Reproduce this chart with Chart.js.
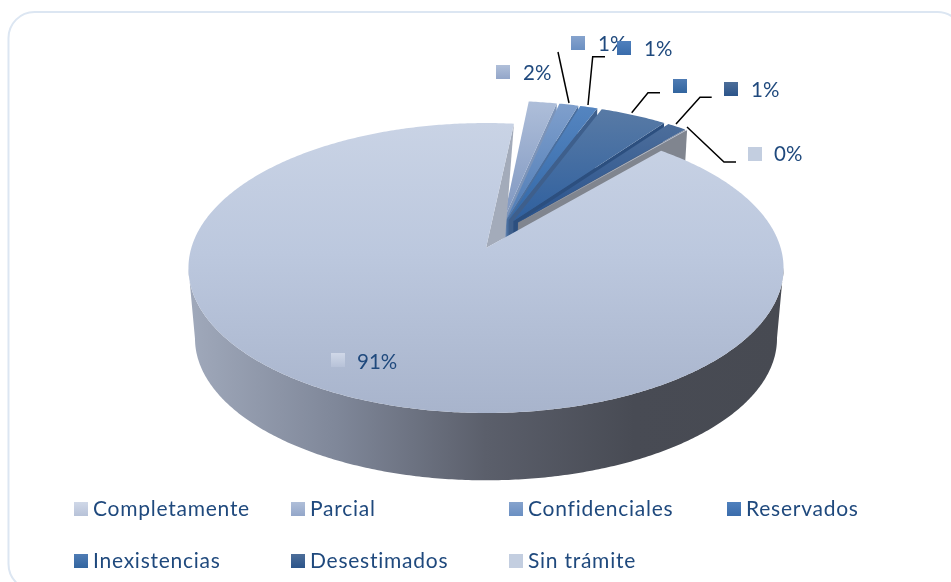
<!DOCTYPE html>
<html><head><meta charset="utf-8">
<style>html,body{margin:0;padding:0;background:#fff;overflow:hidden}canvas{display:block}</style>
<script src="https://cdn.jsdelivr.net/npm/chart.js@4"></script></head>
<body><canvas id="c" width="951" height="582"></canvas>
<script>
const categories=["Completamente","Parcial","Confidenciales","Reservados","Inexistencias","Desestimados","Sin trámite"];
const values=[90.33,1.78,1.22,1.11,4.26,1.22,0.08];
const valueLabels=["91%","2%","1%","1%","","1%","0%"];
const faceTop=["#c9d3e5","#aebed9","#7f9fcc","#5585c0","#587aa5","#4d6e9b","#c8d2e3"];
const faceBottom=["#a8b4cc","#7e96c0","#4f7cb6","#3268a8","#2f609f","#28528d","#c0cbdf"];
const wallCol=["#8c9ab8","#7c94b9","#4a6f9f","#3e5f8c","#2c4f7f","#7d828d","#80858f"];
const swatchTop=["#d0d8e8","#b0bfd9","#86a3cd","#4f80bd","#4f7cb4","#4d6e99","#c3cee0"];
const swatchBottom=["#b7c2d8","#93a6c9","#6a8fc2","#3a6cab","#32659f","#2b548a","#c3cee0"];
// layout (not data)
const labelPos=[[331,353,357,362],[496,65,523,73],[571,36,598,44],[617,41,644,49],[673,79,0,0],[724,82,751,90],[748,147,774,154]];
const leaders=[[],[],[[558,52],[569,103]],[[588,105],[592.7,56.7],[605,56.7]],[[631.7,112.7],[648,92.7],[660,92.7]],[[676,124],[700,97.3],[711.7,97.3]],[[687,127],[724,162],[736,162]]];
const legendPos=[[74,502],[291,502],[509,502],[727,502],[74,554],[291,554],[509,554]];
const TXT="#1f497d",LABEL_FONT="20.5px Lato, Carlito, sans-serif",LEGEND_FONT="21px Lato, Carlito, sans-serif";

const P={cx:486,cy:248,Rx:294.7,Ry:142.2,k:0.138,dy:71,sh:0.022};
function proj(u,v,t){const w=1+P.k*v,s=1-P.sh*t;return[P.cx+P.Rx*s*u/w,P.cy+P.dy*t-P.Ry*s*v/w];}
function dir(a){return[Math.cos(a),-Math.sin(a)];}
function poly(ctx,pts){ctx.beginPath();pts.forEach((p,i)=>i?ctx.lineTo(p[0],p[1]):ctx.moveTo(p[0],p[1]));ctx.closePath();}
function rim(o,a0,a1,t){const n=Math.max(2,Math.ceil(Math.abs(a1-a0)/0.01)),r=[];for(let i=0;i<=n;i++){const d=dir(a0+(a1-a0)*i/n);r.push(proj(o[0]+d[0],o[1]+d[1],t));}return r;}

const pie3d={id:'pie3d',
 beforeDraw(chart){const c=chart.ctx;c.save();c.fillStyle="#fff";c.fillRect(0,0,951,582);
  c.strokeStyle="#dce6f2";c.lineWidth=2;c.beginPath();c.roundRect(8.5,12,955,578,26);c.stroke();c.restore();},
 beforeDatasetsDraw(chart){
  const ctx=chart.ctx,els=chart.getDatasetMeta(0).data;
  const mid=e=>(e.startAngle+e.endAngle)/2;
  const eOf=e=>e.options.offset/e.outerRadius;
  const m=els[0],md=dir(mid(m)),me=eOf(m);
  const origin=e=>{const d=dir(mid(e)),x=eOf(e);return[(d[0]*x-md[0]*me),(d[1]*x-md[1]*me)];};
  ctx.save();
  for(let i=1;i<els.length;i++){const e=els[i],o=origin(e);
    const topR=rim(o,e.startAngle,e.endAngle,0);
    const d=dir(e.endAngle);
    poly(ctx,[proj(o[0],o[1],0),proj(o[0]+d[0],o[1]+d[1],0),proj(o[0]+d[0],o[1]+d[1],1),proj(o[0],o[1],1)]);
    ctx.fillStyle=wallCol[i];ctx.fill();
    const a=proj(o[0],o[1],0);
    const g=ctx.createLinearGradient(0,Math.min(...topR.map(p=>p[1])),0,a[1]);
    g.addColorStop(0,faceTop[i]);g.addColorStop(1,faceBottom[i]);
    poly(ctx,[a,...topR]);ctx.fillStyle=g;ctx.fill();
  }
  const o=[0,0];
  const dEnd=dir(m.endAngle),dStart=dir(m.startAngle);
  poly(ctx,[proj(0,0,0),proj(dEnd[0],dEnd[1],0),proj(dStart[0]*0.1,dStart[1]*0.1,0)]);
  ctx.fillStyle="#a3abba";ctx.fill();
  // outer wall: front part of the rim only, between its two horizontal extremes
  const wg=ctx.createLinearGradient(188,0,783,0);
  wg.addColorStop(0,"#a0a9bb");wg.addColorStop(.25,"#7f8799");wg.addColorStop(.5,"#5b5f6b");wg.addColorStop(.75,"#484b54");wg.addColorStop(1,"#474a52");
  const rTop=rim(o,m.startAngle,m.endAngle,0),rBot=rim(o,m.startAngle,m.endAngle,1);
  let iR=0,iL=0;rTop.forEach((p,i)=>{if(p[0]>rTop[iR][0])iR=i;if(p[0]<rTop[iL][0])iL=i;});
  poly(ctx,[...rTop.slice(iR,iL+1),...rBot.slice(iR,iL+1).reverse()]);
  ctx.fillStyle=wg;ctx.fill();
  const g=ctx.createLinearGradient(0,123,0,413);
  g.addColorStop(0,faceTop[0]);g.addColorStop(.45,"#bcc8de");g.addColorStop(1,faceBottom[0]);
  poly(ctx,[proj(0,0,0),...rTop]);ctx.fillStyle=g;ctx.fill();
  ctx.restore();
  return false;
 },
 afterDraw(chart){
  const ctx=chart.ctx;ctx.save();
  ctx.strokeStyle="#000";ctx.lineWidth=1.5;
  leaders.forEach(l=>{if(!l.length)return;ctx.beginPath();l.forEach((p,i)=>i?ctx.lineTo(p[0],p[1]):ctx.moveTo(p[0],p[1]));ctx.stroke();});
  const sw=(x,y,i)=>{const g=ctx.createLinearGradient(0,y,0,y+14);g.addColorStop(0,swatchTop[i]);g.addColorStop(1,swatchBottom[i]);ctx.fillStyle=g;ctx.fillRect(x,y,14,14);};
  ctx.textBaseline="middle";ctx.textAlign="left";
  ctx.font=LABEL_FONT;
  valueLabels.forEach((t,i)=>{const p=labelPos[i];sw(p[0],p[1],i);if(t){ctx.fillStyle=TXT;ctx.fillText(t,p[2],p[3]);}});
  ctx.font=LEGEND_FONT;ctx.letterSpacing="0.75px";
  categories.forEach((t,i)=>{const p=legendPos[i];sw(p[0],p[1],i);ctx.fillStyle=TXT;ctx.fillText(t,p[0]+19,p[1]+7);});
  ctx.restore();
 }};
new Chart(document.getElementById('c'),{type:'pie',
 data:{labels:categories,datasets:[{data:values,backgroundColor:faceTop,borderWidth:0,offset:30}]},
 options:{responsive:false,animation:false,rotation:41,layout:{padding:0},
  plugins:{legend:{display:false},tooltip:{enabled:false},title:{display:false}}},
 plugins:[pie3d]});
</script></body></html>
